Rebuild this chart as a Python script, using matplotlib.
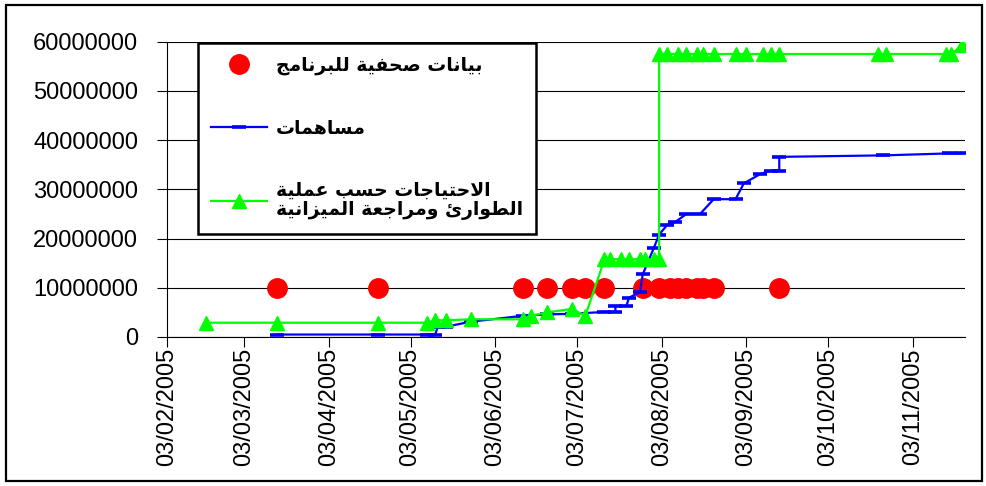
import matplotlib
matplotlib.use('Agg')
import matplotlib.pyplot as plt
import matplotlib.dates as mdates
import pandas as pd
from matplotlib.patches import Rectangle
from matplotlib.font_manager import FontProperties

# ---------------- data ----------------
red_label = "بيانات صحفية للبرنامج"
blue_label = "مساهمات"
green_label = "الاحتياجات حسب عملية\nالطوارئ ومراجعة الميزانية"

red_dates = ['2005-03-15', '2005-04-21', '2005-06-13', '2005-06-22', '2005-07-01',
             '2005-07-06', '2005-07-13', '2005-07-27', '2005-08-02', '2005-08-06',
             '2005-08-09', '2005-08-12', '2005-08-16', '2005-08-18', '2005-08-22',
             '2005-09-15']
red_values = [10000000, 10000000, 10000000, 10000000, 10000000,
              10000000, 10000000, 10000000, 10000000, 10000000,
              10000000, 10000000, 10000000, 10000000, 10000000,
              10000000]

blue_dates = ['2005-03-15', '2005-04-21', '2005-05-09', '2005-05-12', '2005-05-13',
              '2005-05-16', '2005-05-25', '2005-06-13', '2005-06-22', '2005-07-01',
              '2005-07-13', '2005-07-17', '2005-07-17', '2005-07-21', '2005-07-22',
              '2005-07-26', '2005-07-27', '2005-07-31', '2005-08-02', '2005-08-05',
              '2005-08-08', '2005-08-12', '2005-08-17', '2005-08-22', '2005-08-30',
              '2005-09-02', '2005-09-08', '2005-09-12', '2005-09-15', '2005-09-15',
              '2005-10-23', '2005-11-16', '2005-11-21']
blue_values = [500000, 500000, 500000, 500000, 2100000,
               2100000, 3100000, 4300000, 4600000, 4700000,
               5100000, 5100000, 6300000, 6300000, 8000000,
               9100000, 12700000, 18000000, 20800000, 22800000,
               23400000, 25000000, 25000000, 28000000, 28000000,
               31200000, 33100000, 33800000, 33800000, 36600000,
               36900000, 37300000, 37300000]

green_dates = ['2005-02-17', '2005-03-15', '2005-04-21', '2005-05-09', '2005-05-12',
               '2005-05-16', '2005-05-25', '2005-06-13', '2005-06-16', '2005-06-22',
               '2005-07-01', '2005-07-06', '2005-07-13', '2005-07-15', '2005-07-19',
               '2005-07-22', '2005-07-26', '2005-07-28', '2005-07-31', '2005-08-02',
               '2005-08-02', '2005-08-05', '2005-08-09', '2005-08-12', '2005-08-16',
               '2005-08-18', '2005-08-22', '2005-08-30', '2005-09-03', '2005-09-09',
               '2005-09-12', '2005-09-15', '2005-10-21', '2005-10-24', '2005-11-15',
               '2005-11-17', '2005-11-21']
green_values = [2900000, 2900000, 2900000, 2900000, 3400000,
                3400000, 3600000, 3600000, 4300000, 5000000,
                5700000, 4300000, 15800000, 15800000, 15800000,
                15800000, 15800000, 15800000, 15800000, 15800000,
                57500000, 57500000, 57500000, 57500000, 57500000,
                57500000, 57500000, 57500000, 57500000, 57500000,
                57500000, 57500000, 57500000, 57500000, 57500000,
                57500000, 59300000]

y_ticks = [0, 10000000, 20000000, 30000000, 40000000, 50000000, 60000000]
y_tick_labels = ['0', '10000000', '20000000', '30000000', '40000000', '50000000', '60000000']
x_start = '2005-02-03'
x_end = '2005-11-22'

# ------------- Arabic shaping (matplotlib has no complex text layout) -------------
_F = {
    '\u0627': (0xFE8D, 0xFE8E, None, None),
    '\u0628': (0xFE8F, 0xFE90, 0xFE91, 0xFE92),
    '\u0629': (0xFE93, 0xFE94, None, None),
    '\u062A': (0xFE95, 0xFE96, 0xFE97, 0xFE98),
    '\u062C': (0xFE9D, 0xFE9E, 0xFE9F, 0xFEA0),
    '\u062D': (0xFEA1, 0xFEA2, 0xFEA3, 0xFEA4),
    '\u0631': (0xFEAD, 0xFEAE, None, None),
    '\u0632': (0xFEAF, 0xFEB0, None, None),
    '\u0633': (0xFEB1, 0xFEB2, 0xFEB3, 0xFEB4),
    '\u0635': (0xFEB9, 0xFEBA, 0xFEBB, 0xFEBC),
    '\u0637': (0xFEC1, 0xFEC2, 0xFEC3, 0xFEC4),
    '\u0639': (0xFEC9, 0xFECA, 0xFECB, 0xFECC),
    '\u0641': (0xFED1, 0xFED2, 0xFED3, 0xFED4),
    '\u0644': (0xFEDD, 0xFEDE, 0xFEDF, 0xFEE0),
    '\u0645': (0xFEE1, 0xFEE2, 0xFEE3, 0xFEE4),
    '\u0646': (0xFEE5, 0xFEE6, 0xFEE7, 0xFEE8),
    '\u0647': (0xFEE9, 0xFEEA, 0xFEEB, 0xFEEC),
    '\u0648': (0xFEED, 0xFEEE, None, None),
    '\u064A': (0xFEF1, 0xFEF2, 0xFEF3, 0xFEF4),
    '\u0626': (0xFE89, 0xFE8A, 0xFE8B, 0xFE8C),
    'LA': (0xFEFB, 0xFEFC, None, None),
}


def _shape_line(line):
    toks = []
    i = 0
    while i < len(line):
        if line[i] == '\u0644' and i + 1 < len(line) and line[i + 1] == '\u0627':
            toks.append('LA')
            i += 2
        else:
            toks.append(line[i])
            i += 1
    out = []
    for k, t in enumerate(toks):
        if t not in _F:
            out.append(t)
            continue
        f = _F[t]
        prev = toks[k - 1] if k > 0 else None
        nxt = toks[k + 1] if k + 1 < len(toks) else None
        jp = prev in _F and _F[prev][2] is not None
        jn = f[2] is not None and nxt in _F
        if jp and jn:
            c = f[3]
        elif jp:
            c = f[1]
        elif jn:
            c = f[2]
        else:
            c = f[0]
        out.append(chr(c))
    return ''.join(reversed(out))


def shape_arabic(text):
    return '\n'.join(_shape_line(l) for l in text.split('\n'))


# ---------------- figure ----------------
plt.rcParams['font.family'] = ['Liberation Sans', 'DejaVu Sans']

fig = plt.figure(figsize=(9.87, 4.86), dpi=100)
ax = fig.add_axes([0.1697, 0.3066, 0.808, 0.6076])

rd = pd.to_datetime(red_dates)
bd = pd.to_datetime(blue_dates)
gd = pd.to_datetime(green_dates)

ax.plot(rd, red_values, linestyle='none', marker='o', markersize=14,
        color='#FF0000', markeredgecolor='#FF0000', zorder=3,
        label=shape_arabic(red_label))
ax.plot(bd, blue_values, color='#0000FF', lw=1.6, marker='_', markersize=9.5,
        markeredgewidth=2.6, zorder=4, label=shape_arabic(blue_label))
ax.plot(gd, green_values, color='#00FF00', lw=1.6, marker='^', markersize=9.5,
        markeredgecolor='#00FF00', zorder=5, label=shape_arabic(green_label))

ax.set_ylim(0, 60000000)
ax.set_yticks(y_ticks)
ax.set_yticklabels(y_tick_labels)
ax.set_xlim(pd.Timestamp(x_start), pd.Timestamp(x_end))
ax.xaxis.set_major_locator(mdates.MonthLocator(bymonthday=3))
ax.xaxis.set_major_formatter(mdates.DateFormatter('%d/%m/%Y'))

ax.tick_params(axis='y', length=7, width=0.8, direction='out', pad=14,
               labelsize=17, colors='black')
ax.tick_params(axis='x', length=7, width=0.8, direction='out', pad=1,
               labelsize=17, labelrotation=90, colors='black')

ax.yaxis.grid(True, color='black', lw=0.8)
ax.set_axisbelow(True)
for s in ['top', 'right']:
    ax.spines[s].set_visible(False)
for s in ['left', 'bottom']:
    ax.spines[s].set_color('black')
    ax.spines[s].set_linewidth(0.8)

leg_font = FontProperties(family=['DejaVu Sans'], weight='bold', size=13.5)
leg = ax.legend(loc='upper left', bbox_to_anchor=(0.038, 0.996), prop=leg_font,
                frameon=True, fancybox=False, edgecolor='black', framealpha=1,
                numpoints=1, handlelength=3.0, handletextpad=0.45,
                labelspacing=2.3, borderpad=0.7, borderaxespad=0)
leg.get_frame().set_linewidth(1.8)
for t in leg.get_texts():
    t.set_linespacing(1.05)

fig.patches.append(Rectangle((0.0061, 0.0103), 0.9889, 0.9794, transform=fig.transFigure,
                             fill=False, edgecolor='black', lw=1.6))

fig.savefig('out.png', dpi=100)
